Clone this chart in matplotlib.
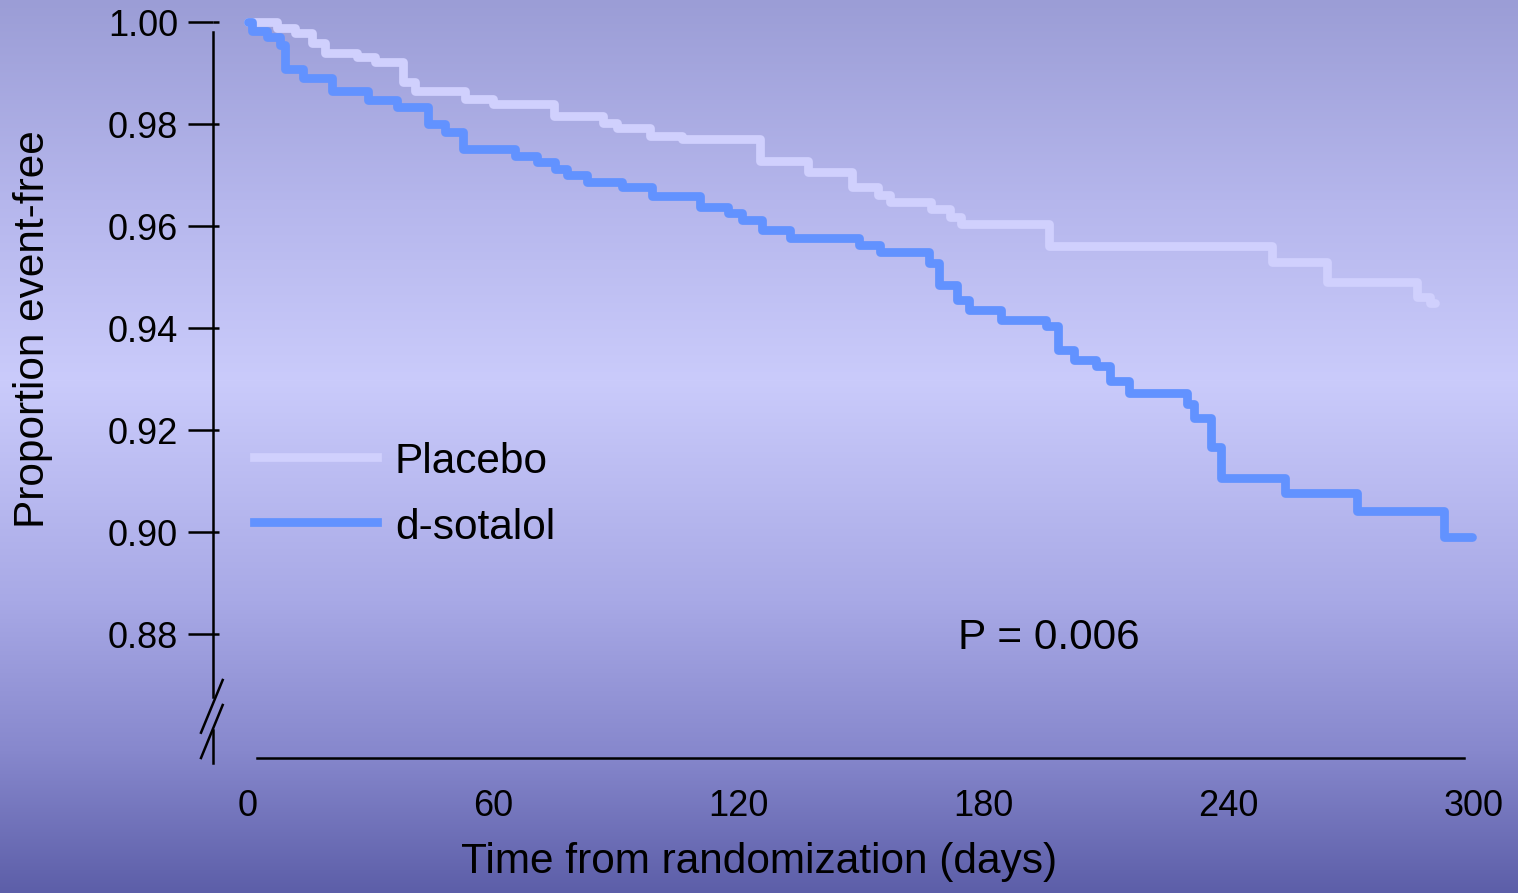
import numpy as np
import matplotlib
matplotlib.use("Agg")
import matplotlib.pyplot as plt
from matplotlib.lines import Line2D

plt.rcParams['font.family'] = ['Liberation Sans', 'DejaVu Sans']

# ---------------- data ----------------
placebo_days = [0, 7.1, 11.5, 15.7, 18.8, 26.7, 31.1, 37.9, 40.9, 53.1, 59.9, 74.9,
                86.9, 90.3, 98.4, 106.2, 125.3, 137.0, 147.8, 154.1, 157.1, 167.1,
                171.8, 174.5, 196.0, 250.6, 264.0, 286.0, 289.2]
placebo_surv = [1.000, 0.9989, 0.9978, 0.9959, 0.9940, 0.9931, 0.9921, 0.9882, 0.9865,
                0.9850, 0.9839, 0.9816, 0.9802, 0.9792, 0.9776, 0.9771, 0.9728, 0.9706,
                0.9677, 0.9660, 0.9648, 0.9634, 0.9618, 0.9603, 0.9560, 0.9530, 0.9490,
                0.9460, 0.9450]
placebo_end = 290.4

sotalol_days = [0, 1.0, 4.6, 7.8, 9.1, 13.5, 20.6, 29.4, 36.5, 44.0, 48.2, 52.6, 65.3,
                70.7, 75.1, 78.1, 82.9, 91.5, 98.9, 110.6, 117.4, 120.9, 125.8, 132.6,
                149.5, 154.6, 166.6, 169.2, 173.4, 176.4, 184.2, 195.3, 198.2, 202.1,
                207.5, 210.9, 215.6, 229.7, 231.5, 235.6, 238.2, 253.7, 271.4, 292.6]
sotalol_surv = [1.000, 0.9983, 0.9970, 0.9954, 0.9908, 0.9891, 0.9865, 0.9847, 0.9834,
                0.9800, 0.9784, 0.9751, 0.9737, 0.9725, 0.9712, 0.9700, 0.9686, 0.9676,
                0.9658, 0.9637, 0.9626, 0.9612, 0.9592, 0.9576, 0.9563, 0.9549, 0.9528,
                0.9484, 0.9454, 0.9435, 0.9415, 0.9403, 0.9357, 0.9337, 0.9325, 0.9296,
                0.9272, 0.9251, 0.9224, 0.9167, 0.9105, 0.9076, 0.9041, 0.8990]
sotalol_end = 299.5

series_labels = ["Placebo", "d-sotalol"]
x_ticks = [0, 60, 120, 180, 240, 300]
y_ticks = [0.88, 0.90, 0.92, 0.94, 0.96, 0.98, 1.00]
x_label = "Time from randomization (days)"
y_label = "Proportion event-free"
p_text = "P = 0.006"

# ---------------- layout ----------------
W, H = 1518, 893
X0PX, X300PX = 248, 1474
Y100PX, Y088PX = 22, 634

def dx(px):
    return (px - X0PX) / (X300PX - X0PX) * 300.0

def dy(py):
    return 1.0 - (py - Y100PX) / (Y088PX - Y100PX) * 0.12

def axx(px):
    return (px - X0PX) / (X300PX - X0PX)

def axy(py):
    return (Y088PX - py) / (Y088PX - Y100PX)

fig = plt.figure(figsize=(W / 100, H / 100), dpi=100)

# background gradient
bg = fig.add_axes([0, 0, 1, 1], zorder=-10)
stops_py = [0, 200, 380, 600, 750, 893]
stops_rgb = np.array([(155, 157, 214), (181, 182, 236), (202, 203, 251),
                      (168, 169, 230), (135, 136, 205), (92, 94, 168)]) / 255.0
rows = np.arange(H)
grad = np.stack([np.interp(rows, stops_py, stops_rgb[:, i]) for i in range(3)], axis=1)
bg.imshow(grad[:, None, :], aspect='auto', extent=[0, 1, 0, 1])
bg.set_axis_off()

ax = fig.add_axes([X0PX / W, 1 - Y088PX / H, (X300PX - X0PX) / W, (Y088PX - Y100PX) / H])
ax.patch.set_alpha(0)
ax.set_xlim(0, 300)
ax.set_ylim(0.88, 1.00)

placebo_col = '#d0d0fd'
sotalol_col = '#6292ff'
LW = 6.3

ax.step(placebo_days + [placebo_end], placebo_surv + [placebo_surv[-1]], where='post',
        color=placebo_col, lw=LW, solid_joinstyle='round', solid_capstyle='round',
        clip_on=False, zorder=3, label=series_labels[0])
ax.step(sotalol_days + [sotalol_end], sotalol_surv + [sotalol_surv[-1]], where='post',
        color=sotalol_col, lw=LW, solid_joinstyle='round', solid_capstyle='round',
        clip_on=False, zorder=4, label=series_labels[1])

# axes / spines
AXLW = 1.8
for s in ['top', 'right']:
    ax.spines[s].set_visible(False)
ax.spines['left'].set_position(('data', dx(212.7)))
ax.spines['left'].set_bounds(dy(697), dy(32))
ax.spines['left'].set_linewidth(AXLW)
ax.spines['bottom'].set_position(('data', dy(758)))
ax.spines['bottom'].set_bounds(dx(257), dx(1464))
ax.spines['bottom'].set_linewidth(AXLW)

# lower stub of y axis and break marks
ax.plot([dx(212.7), dx(212.7)], [dy(730), dy(763)], color='black', lw=AXLW, clip_on=False)
ax.plot([dx(222.7), dx(201)], [dy(680), dy(732.7)], color='black', lw=AXLW, clip_on=False)
ax.plot([dx(222.7), dx(201)], [dy(705), dy(758)], color='black', lw=AXLW, clip_on=False)

ax.set_yticks(y_ticks)
ax.set_yticklabels([f"{v:.2f}" for v in y_ticks])
ax.yaxis.remove_overlapping_locs = False
ax.set_yticks(y_ticks, minor=True)
ax.tick_params(axis='y', which='major', direction='out', length=18, width=AXLW,
               pad=7, labelsize=26)
ax.tick_params(axis='y', which='minor', direction='in', length=4.5, width=AXLW)

ax.set_xticks(x_ticks)
ax.set_xticklabels([str(v) for v in x_ticks])
ax.tick_params(axis='x', which='major', length=0, pad=22, labelsize=26)

ax.set_xlabel(x_label, fontsize=30.5)
ax.xaxis.set_label_coords(axx(759), axy(862))
ax.xaxis.label.set_va('center')
ax.set_ylabel(y_label, fontsize=30.5)
ax.yaxis.set_label_coords(axx(33), axy(329))
ax.yaxis.label.set_va('center')

ax.text(dx(1049), dy(638), p_text, fontsize=30.5, ha='center', va='center')

handles = [Line2D([], [], color=placebo_col, lw=LW), Line2D([], [], color=sotalol_col, lw=LW)]
ax.legend(handles, series_labels, loc='upper left', bbox_to_anchor=(254 / W, 1 - 440 / H),
          bbox_transform=fig.transFigure, frameon=False, fontsize=30.5,
          handlelength=123 / 42.4, handletextpad=18 / 42.4, labelspacing=0.55,
          borderpad=0, borderaxespad=0, handleheight=1.0)

fig.savefig('out.png', dpi=100)
